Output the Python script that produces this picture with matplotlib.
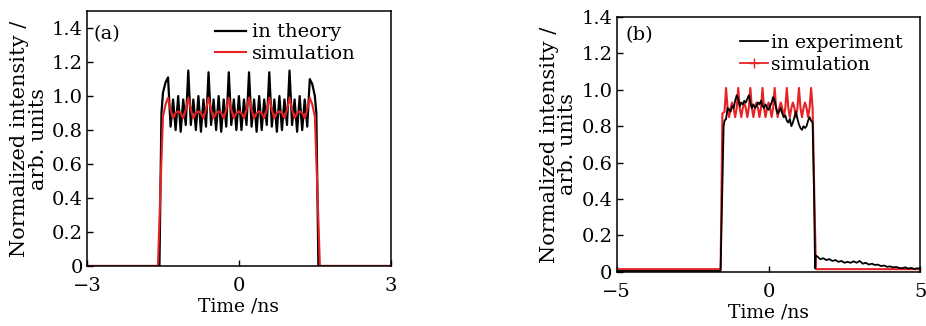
import matplotlib
matplotlib.use("Agg")
import matplotlib.pyplot as plt
from matplotlib.lines import Line2D

plt.rcParams['font.family'] = ['DejaVu Serif']
plt.rcParams['font.size'] = 14
plt.rcParams['axes.unicode_minus'] = True

VERMELHO = '#e62224'

# ---- painel (a): teoria x simulacao ----
teoria_t = [-3.0, -1.57, -1.53, -1.50, -1.45, -1.40, -1.35, -1.30, -1.25, -1.20,
            -1.15, -1.10, -1.05, -1.00, -0.95, -0.90, -0.85, -0.80, -0.75, -0.70,
            -0.65, -0.60, -0.55, -0.50, -0.45, -0.40, -0.35, -0.30, -0.25, -0.20,
            -0.15, -0.10, -0.05, 0.00, 0.05, 0.10, 0.15, 0.20, 0.25, 0.30,
            0.35, 0.40, 0.45, 0.50, 0.55, 0.60, 0.65, 0.70, 0.75, 0.80,
            0.85, 0.90, 0.95, 1.00, 1.05, 1.10, 1.15, 1.20, 1.25, 1.30,
            1.35, 1.40, 1.45, 1.50, 1.53, 1.57, 3.0]
teoria_i = [0.0, 0.0, 0.90, 1.02, 1.08, 1.11, 0.82, 0.98, 0.80, 1.00,
            0.79, 0.98, 0.83, 1.15, 0.83, 0.98, 0.80, 1.00, 0.79, 0.98,
            0.82, 1.14, 0.83, 0.98, 0.80, 1.00, 0.79, 0.98, 0.82, 1.14,
            0.83, 0.98, 0.80, 1.00, 0.80, 0.98, 0.83, 1.14, 0.82, 0.98,
            0.79, 1.00, 0.80, 0.98, 0.83, 1.14, 0.82, 0.98, 0.79, 1.00,
            0.80, 0.98, 0.83, 1.15, 0.83, 0.98, 0.79, 1.00, 0.80, 0.98,
            0.82, 1.10, 1.07, 1.00, 0.90, 0.0, 0.0]

sim_a_t = [-3.0, -1.60, -1.55, -1.50, -1.45, -1.40, -1.35, -1.30, -1.25, -1.20,
           -1.15, -1.10, -1.05, -1.00, -0.95, -0.90, -0.85, -0.80, -0.75, -0.70,
           -0.65, -0.60, -0.55, -0.50, -0.45, -0.40, -0.35, -0.30, -0.25, -0.20,
           -0.15, -0.10, -0.05, 0.00, 0.05, 0.10, 0.15, 0.20, 0.25, 0.30,
           0.35, 0.40, 0.45, 0.50, 0.55, 0.60, 0.65, 0.70, 0.75, 0.80,
           0.85, 0.90, 0.95, 1.00, 1.05, 1.10, 1.15, 1.20, 1.25, 1.30,
           1.35, 1.40, 1.45, 1.50, 1.55, 1.60, 3.0]
sim_a_i = [0.0, 0.0, 0.45, 0.88, 0.95, 0.99, 0.92, 0.87, 0.90, 0.91,
           0.90, 0.87, 0.92, 0.99, 0.92, 0.87, 0.90, 0.91, 0.90, 0.87,
           0.92, 0.99, 0.92, 0.87, 0.90, 0.91, 0.90, 0.87, 0.92, 0.99,
           0.92, 0.87, 0.90, 0.91, 0.90, 0.87, 0.92, 0.99, 0.92, 0.87,
           0.90, 0.91, 0.90, 0.87, 0.92, 0.99, 0.92, 0.87, 0.90, 0.91,
           0.90, 0.87, 0.92, 0.99, 0.92, 0.87, 0.90, 0.91, 0.90, 0.87,
           0.92, 0.99, 0.95, 0.88, 0.45, 0.0, 0.0]

# ---- painel (b): experimento x simulacao ----
exp_t = [-5.0, -1.58, -1.48, -1.45, -1.40, -1.35, -1.30, -1.25, -1.20, -1.15,
         -1.10, -1.05, -1.00, -0.95, -0.90, -0.85, -0.80, -0.75, -0.70, -0.65,
         -0.60, -0.55, -0.50, -0.45, -0.40, -0.35, -0.30, -0.25, -0.20, -0.15,
         -0.10, -0.05, 0.00, 0.05, 0.10, 0.15, 0.20, 0.25, 0.30, 0.35,
         0.40, 0.45, 0.50, 0.55, 0.60, 0.65, 0.70, 0.75, 0.80, 0.85,
         0.90, 0.95, 1.00, 1.05, 1.10, 1.15, 1.20, 1.25, 1.30, 1.35,
         1.40, 1.45, 1.50, 1.53, 1.55, 1.60, 1.70, 1.80, 1.90, 2.00,
         2.10, 2.20, 2.30, 2.40, 2.50, 2.60, 2.70, 2.80, 2.90, 3.00,
         3.10, 3.20, 3.30, 3.40, 3.50, 3.60, 3.70, 3.80, 3.90, 4.00,
         4.10, 4.20, 4.30, 4.40, 4.50, 4.60, 4.70, 4.80, 4.90, 5.00]
exp_i = [0.005, 0.005, 0.80, 0.83, 0.84, 0.90, 0.89, 0.88, 0.91, 0.90,
         0.94, 0.97, 0.95, 0.91, 0.93, 0.92, 0.94, 0.93, 0.95, 0.97,
         0.93, 0.90, 0.92, 0.90, 0.91, 0.93, 0.92, 0.94, 0.91, 0.90,
         0.92, 0.90, 0.89, 0.91, 0.93, 0.96, 0.94, 0.90, 0.87, 0.88,
         0.90, 0.87, 0.85, 0.86, 0.83, 0.82, 0.84, 0.80, 0.82, 0.85,
         0.88, 0.84, 0.81, 0.79, 0.78, 0.80, 0.79, 0.80, 0.83, 0.85,
         0.83, 0.82, 0.40, 0.02, 0.09, 0.085, 0.07, 0.075, 0.065, 0.07,
         0.06, 0.065, 0.055, 0.06, 0.05, 0.055, 0.05, 0.058, 0.05, 0.06,
         0.045, 0.05, 0.04, 0.045, 0.038, 0.04, 0.032, 0.035, 0.028, 0.03,
         0.025, 0.027, 0.022, 0.02, 0.025, 0.018, 0.022, 0.016, 0.02, 0.018]

sim_b_t = [-5.0, -1.58, -1.52, -1.45, -1.40, -1.35, -1.30, -1.25, -1.20, -1.15,
           -1.10, -1.05, -1.00, -0.95, -0.90, -0.85, -0.80, -0.75, -0.70, -0.65,
           -0.60, -0.55, -0.50, -0.45, -0.40, -0.35, -0.30, -0.25, -0.20, -0.15,
           -0.10, -0.05, 0.00, 0.05, 0.10, 0.15, 0.20, 0.25, 0.30, 0.35,
           0.40, 0.45, 0.50, 0.55, 0.60, 0.65, 0.70, 0.75, 0.80, 0.85,
           0.90, 0.95, 1.00, 1.05, 1.10, 1.15, 1.20, 1.25, 1.30, 1.35,
           1.40, 1.45, 1.52, 1.56, 5.0]
sim_b_i = [0.015, 0.015, 0.87, 0.88, 1.01, 0.90, 0.85, 0.90, 0.93, 0.90,
           0.85, 0.90, 1.01, 0.90, 0.85, 0.90, 0.93, 0.90, 0.85, 0.90,
           1.01, 0.90, 0.85, 0.90, 0.93, 0.90, 0.85, 0.90, 1.01, 0.90,
           0.85, 0.90, 0.93, 0.90, 0.85, 0.90, 1.01, 0.90, 0.85, 0.90,
           0.93, 0.90, 0.85, 0.90, 1.01, 0.90, 0.85, 0.90, 0.93, 0.90,
           0.85, 0.90, 1.01, 0.90, 0.85, 0.90, 0.93, 0.90, 0.85, 0.90,
           1.01, 0.90, 0.30, 0.015, 0.015]

y_ticks = [0, 0.2, 0.4, 0.6, 0.8, 1.0, 1.2, 1.4]
y_labels = ['0', '0.2', '0.4', '0.6', '0.8', '1.0', '1.2', '1.4']


def estilo_eixo(ax, xlim, xticks, ylim):
    ax.set_xlim(*xlim)
    ax.set_ylim(*ylim)
    ax.set_xticks(xticks)
    ax.set_yticks(y_ticks)
    ax.set_yticklabels(y_labels)
    ax.tick_params(direction='in', length=4, width=1, labelsize=14)
    ax.tick_params(axis='x', pad=8)
    ax.tick_params(axis='y', pad=3)
    for s in ax.spines.values():
        s.set_linewidth(1.1)
    ax.set_xlabel('Time /ns', labelpad=2, fontsize=13.5)
    ax.set_ylabel('Normalized intensity /\narb. units', labelpad=3,
                  linespacing=0.95, fontsize=15)


fig = plt.figure(figsize=(9.26, 3.26), dpi=100)

ax1 = fig.add_axes([0.094, 0.184, 0.328, 0.782])
ax1.plot(teoria_t, teoria_i, color='black', lw=1.6, label='in theory')
ax1.plot(sim_a_t, sim_a_i, color=VERMELHO, lw=1.5, label='simulation')
estilo_eixo(ax1, (-3, 3), [-3, 0, 3], (0, 1.5))
ax1.text(0.02, 0.91, '(a)', transform=ax1.transAxes, fontsize=14, va='center')
ax1.legend(loc='upper left', bbox_to_anchor=(0.39, 0.99), frameon=False,
           borderpad=0, handlelength=1.6, handletextpad=0.3, labelspacing=0.2,
           fontsize=14)

ax2 = fig.add_axes([0.666, 0.166, 0.328, 0.782])
ax2.plot(sim_b_t, sim_b_i, color=VERMELHO, lw=1.5)
ax2.plot(exp_t, exp_i, color='black', lw=1.3)
estilo_eixo(ax2, (-5, 5), [-5, 0, 5], (0, 1.4))
ax2.text(0.03, 0.93, '(b)', transform=ax2.transAxes, fontsize=14, va='center')
handles = [Line2D([], [], color='black', lw=1.3),
           Line2D([], [], color=VERMELHO, lw=1.3, marker='+', markersize=7)]
ax2.legend(handles, ['in experiment', 'simulation'], loc='upper left',
           bbox_to_anchor=(0.375, 0.97), frameon=False, borderpad=0,
           handlelength=1.5, handletextpad=0.15, labelspacing=0.2, fontsize=13.5)

fig.savefig('out.png', dpi=100)
